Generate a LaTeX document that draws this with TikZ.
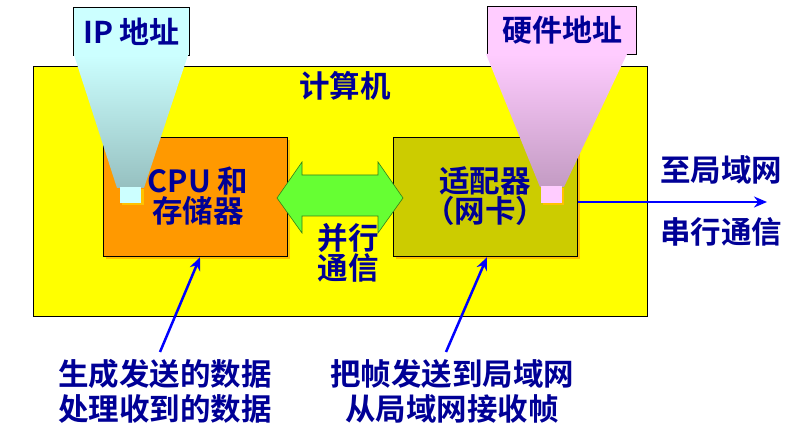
\documentclass[tikz,border=0pt]{standalone}
\usepackage{fontspec}
\newfontfamily\cjk{Noto Sans CJK SC}[BoldFont={Noto Sans CJK SC Bold}]
\usetikzlibrary{arrows.meta}
\definecolor{txt}{RGB}{0,0,150}
\definecolor{ybg}{RGB}{255,255,0}
\definecolor{cpuc}{RGB}{255,153,0}
\definecolor{adc}{RGB}{204,204,0}
\definecolor{grn}{RGB}{102,255,51}
\definecolor{cyl}{RGB}{204,255,255}
\definecolor{cyd}{RGB}{150,192,192}
\definecolor{pkl}{RGB}{255,204,255}
\definecolor{pkd}{RGB}{195,155,195}
\definecolor{arr}{RGB}{0,0,255}
\tikzset{
  lbl/.style={font=\cjk\bfseries\fontsize{30.5}{34}\selectfont, text=txt, inner sep=0pt, align=center},
  box/.style={draw=black, line width=1.2pt},
  tag/.style={draw=black, line width=1pt, inner sep=0pt, font=\cjk\bfseries\fontsize{30}{34}\selectfont, text=txt},
  barrow/.style={draw=arr, line width=2.5pt, -{Stealth[length=13pt,width=11pt]}},
}
\begin{document}
\begin{tikzpicture}[x=1pt,y=-1pt]
\useasboundingbox (0,0) rectangle (796,435);
% computer
\node[box, fill=ybg, line width=1pt, minimum width=614pt, minimum height=250pt, inner sep=0pt, anchor=north west] (comp) at (33,66) {};
\node[lbl] (compl) at (345,86) {计算机};
% shadows
\fill[cpuc!60!yellow] (106,140) rectangle (290,259);
\fill[cpuc!60!yellow] (396,140) rectangle (580,259);
\node[box, fill=cpuc, minimum width=184pt, minimum height=119pt, inner sep=0pt, anchor=north west] (cpu) at (103,137) {};
\node[box, fill=adc, minimum width=184pt, minimum height=119pt, inner sep=0pt, anchor=north west] (ad) at (393,137) {};
\node[lbl] at (198,196) {CPU 和\\[-4pt]存储器};
\node[lbl] at (485,196) {适配器\\[-4pt]（网卡）};
% green double arrow
\draw[fill=grn, draw=grn!50!black, line width=0.6pt]
  (277,198) -- (302,162) -- (302,175) -- (378,175) -- (378,162) -- (403,198)
  -- (378,233) -- (378,216) -- (302,216) -- (302,233) -- cycle;
\node[lbl] (par) at (348,253) {并行\\[-4pt]通信};
% tags
\node[tag, fill=cyl, minimum width=116pt, minimum height=48pt, anchor=north west] (ip) at (73,7) {IP 地址};
\node[tag, fill=pkl, minimum width=149pt, minimum height=48pt, anchor=north west] (hw) at (487,6) {硬件地址};
\shade[top color=cyl, bottom color=cyd] (74,55) -- (188,55) -- (144,188) -- (117,188) -- cycle;
\shade[top color=pkl, bottom color=pkd] (486,54) -- (627,54) -- (564,187) -- (540,187) -- cycle;
\fill[cpuc!60!yellow] (122,189) rectangle (144,205);
\node[fill=cyl, minimum width=21pt, minimum height=16pt, inner sep=0pt, anchor=north west] (ipdot) at (120,187) {};
\fill[cpuc!60!yellow] (543,188) rectangle (564,205);
\node[fill=pkl, minimum width=21pt, minimum height=17pt, inner sep=0pt, anchor=north west] (hwdot) at (541,186) {};
% LAN arrow
\coordinate (lan) at (767,202);
\draw[barrow] (ad.east |- 0,202) -- (lan);
\node[lbl] (tolan) at (721,170) {至局域网};
\node[lbl] (ser) at (721,232) {串行通信};
% bottom texts
\node[lbl] (t1) at (165,391) {生成发送的数据\\[1pt]处理收到的数据};
\node[lbl] (t2) at (452,391) {把帧发送到局域网\\[1pt]从局域网接收帧};
\coordinate (a1) at (160,352);
\coordinate (a2) at (446,352);
\draw[barrow] (a1) -- (cpu.south -| 200,0);
\draw[barrow] (a2) -- (ad.south -| 487,0);
\end{tikzpicture}
\end{document}
